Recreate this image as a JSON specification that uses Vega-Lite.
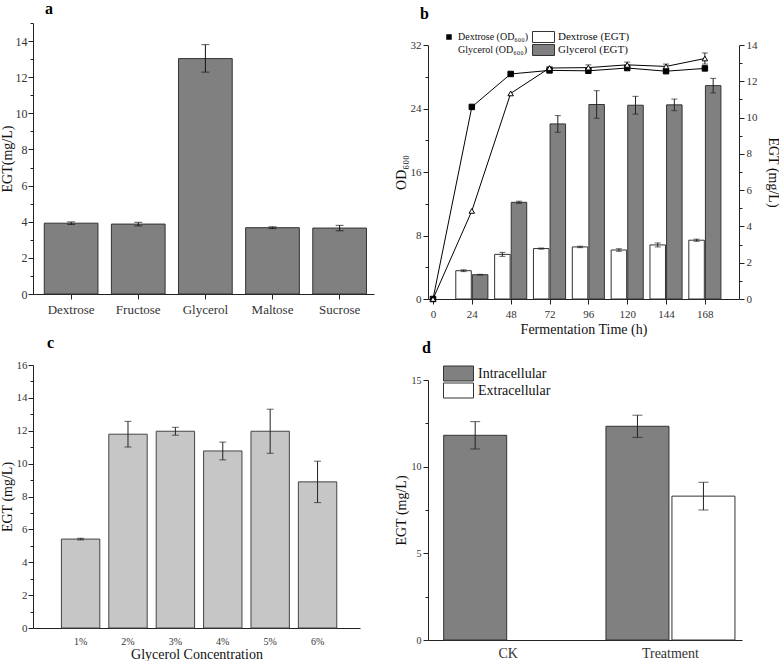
{
  "$schema": "https://vega.github.io/schema/vega-lite/v6.json",
  "background": "white",
  "padding": {"left": 0, "top": 0, "right": 0, "bottom": 0},
  "config": {
    "font": "Liberation Serif",
    "view": {"stroke": null},
    "axis": {
      "domainColor": "#222", "tickColor": "#222", "labelColor": "#333", "titleColor": "#111",
      "labelFont": "Liberation Serif", "titleFont": "Liberation Serif", "titleFontWeight": "normal",
      "grid": false, "labelFontSize": 12, "titleFontSize": 14, "tickSize": 5, "domainWidth": 1,
      "labelPadding": 2, "titlePadding": 3
    },
    "title": {"font": "Liberation Serif", "fontSize": 16, "fontWeight": "bold", "anchor": "start", "frame": "group", "color": "#000", "baseline": "alphabetic"},
    "legend": {"labelFont": "Liberation Serif", "labelColor": "#111"}
  },
  "resolve": {"scale": {"fill": "independent", "color": "independent", "shape": "independent"}, "legend": {"fill": "independent", "color": "independent", "shape": "independent"}},
  "columns": 2,
  "align": "none",
  "spacing": 20,
  "concat": [
    {
      "spacing": 19,
      "resolve": {"scale": {"fill": "independent", "color": "independent", "shape": "independent"}, "legend": {"fill": "independent", "color": "independent", "shape": "independent"}},
      "vconcat": [
        {
          "title": {"text": "a", "offset": 6, "dx": 12},
          "width": 341, "height": 271,
          "data": {"values": [
            {"sugar": "Dextrose", "egt": 3.92, "lo": 3.85, "hi": 3.99},
            {"sugar": "Fructose", "egt": 3.87, "lo": 3.77, "hi": 3.97},
            {"sugar": "Glycerol", "egt": 13.03, "lo": 12.28, "hi": 13.8},
            {"sugar": "Maltose", "egt": 3.67, "lo": 3.62, "hi": 3.72},
            {"sugar": "Sucrose", "egt": 3.65, "lo": 3.5, "hi": 3.8}
          ]},
          "resolve": {"axis": {"y": "independent"}},
          "encoding": {
            "x": {"field": "sugar", "type": "nominal", "sort": null,
                  "scale": {"paddingInner": 0.2, "paddingOuter": 0.14, "align": 0.6},
                  "axis": {"title": null, "labelAngle": 0, "labelFontSize": 13, "tickSize": 5, "labelPadding": 4}}
          },
          "layer": [
            {"mark": {"type": "bar", "fill": "#808080", "stroke": "#333", "strokeWidth": 1},
             "encoding": {"y": {"field": "egt", "type": "quantitative", "scale": {"domain": [0, 15], "nice": false},
                                "axis": {"title": "EGT(mg/L)", "values": [0, 2, 4, 6, 8, 10, 12, 14], "labelPadding": 1, "titlePadding": 1}}}},
            {"mark": {"type": "rule", "color": "#111"},
             "encoding": {"y": {"field": "lo", "type": "quantitative",
                                "axis": {"orient": "left", "values": [1, 3, 5, 7, 9, 11, 13, 15], "labels": false, "domain": false, "title": null, "tickSize": 3}},
                          "y2": {"field": "hi"}}},
            {"mark": {"type": "tick", "orient": "horizontal", "size": 8, "thickness": 1, "color": "#111"},
             "encoding": {"y": {"field": "lo", "type": "quantitative", "axis": null}}},
            {"mark": {"type": "tick", "orient": "horizontal", "size": 8, "thickness": 1, "color": "#111"},
             "encoding": {"y": {"field": "hi", "type": "quantitative", "axis": null}}}
          ]
        },
        {
          "title": {"text": "c", "offset": 8, "dx": 14},
          "width": 327, "height": 263,
          "data": {"values": [
            {"conc": "1%", "egt": 5.41, "lo": 5.36, "hi": 5.46},
            {"conc": "2%", "egt": 11.79, "lo": 11.01, "hi": 12.57},
            {"conc": "3%", "egt": 11.97, "lo": 11.73, "hi": 12.21},
            {"conc": "4%", "egt": 10.77, "lo": 10.23, "hi": 11.31},
            {"conc": "5%", "egt": 11.97, "lo": 10.63, "hi": 13.31},
            {"conc": "6%", "egt": 8.89, "lo": 7.63, "hi": 10.15}
          ]},
          "resolve": {"axis": {"y": "independent"}},
          "encoding": {
            "x": {"field": "conc", "type": "nominal", "sort": null,
                  "scale": {"paddingInner": 0.19, "paddingOuter": 0.545, "align": 0.55},
                  "axis": {"title": "Glycerol Concentration", "labelAngle": 0, "labelFontSize": 10, "ticks": false, "labelPadding": 8, "titlePadding": 1, "titleFontSize": 14}}
          },
          "layer": [
            {"mark": {"type": "bar", "fill": "#c6c6c6", "stroke": "#444", "strokeWidth": 1},
             "encoding": {"y": {"field": "egt", "type": "quantitative", "scale": {"domain": [0, 16], "nice": false},
                                "axis": {"title": "EGT (mg/L)", "values": [0, 2, 4, 6, 8, 10, 12, 14, 16], "labelFontSize": 11, "labelPadding": 1, "titlePadding": 2}}}},
            {"mark": {"type": "rule", "color": "#222"},
             "encoding": {"y": {"field": "lo", "type": "quantitative",
                                "axis": {"orient": "left", "values": [1, 3, 5, 7, 9, 11, 13, 15], "labels": false, "domain": false, "title": null, "tickSize": 3}},
                          "y2": {"field": "hi"}}},
            {"mark": {"type": "tick", "orient": "horizontal", "size": 7, "thickness": 1, "color": "#222"},
             "encoding": {"y": {"field": "lo", "type": "quantitative", "axis": null}}},
            {"mark": {"type": "tick", "orient": "horizontal", "size": 7, "thickness": 1, "color": "#222"},
             "encoding": {"y": {"field": "hi", "type": "quantitative", "axis": null}}}
          ]
        }
      ]
    },
    {
      "spacing": 4,
      "resolve": {"scale": {"fill": "independent", "color": "independent", "shape": "independent"}, "legend": {"fill": "independent", "color": "independent", "shape": "independent"}},
      "vconcat": [
        {
          "title": {"text": "b", "offset": 1, "dx": -8},
          "width": 311, "height": 3,
          "data": {"values": []},
          "mark": {"type": "point", "opacity": 0},
          "encoding": {}
        },
        {
          "width": 311, "height": 254,
          "resolve": {"scale": {"y": "independent", "fill": "independent", "shape": "independent", "color": "independent"}},
          "layer": [
            {
              "data": {"values": [
                {"t": 24, "series": "Dextrose (EGT)", "egt": 1.56, "lo": 1.51, "hi": 1.61},
                {"t": 48, "series": "Dextrose (EGT)", "egt": 2.46, "lo": 2.35, "hi": 2.57},
                {"t": 72, "series": "Dextrose (EGT)", "egt": 2.78, "lo": 2.75, "hi": 2.81},
                {"t": 96, "series": "Dextrose (EGT)", "egt": 2.87, "lo": 2.83, "hi": 2.91},
                {"t": 120, "series": "Dextrose (EGT)", "egt": 2.7, "lo": 2.63, "hi": 2.77},
                {"t": 144, "series": "Dextrose (EGT)", "egt": 2.98, "lo": 2.87, "hi": 3.09},
                {"t": 168, "series": "Dextrose (EGT)", "egt": 3.24, "lo": 3.18, "hi": 3.3},
                {"t": 24, "series": "Glycerol (EGT)", "egt": 1.34, "lo": 1.32, "hi": 1.36},
                {"t": 48, "series": "Glycerol (EGT)", "egt": 5.33, "lo": 5.27, "hi": 5.39},
                {"t": 72, "series": "Glycerol (EGT)", "egt": 9.65, "lo": 9.19, "hi": 10.11},
                {"t": 96, "series": "Glycerol (EGT)", "egt": 10.72, "lo": 9.96, "hi": 11.48},
                {"t": 120, "series": "Glycerol (EGT)", "egt": 10.68, "lo": 10.19, "hi": 11.17},
                {"t": 144, "series": "Glycerol (EGT)", "egt": 10.7, "lo": 10.38, "hi": 11.02},
                {"t": 168, "series": "Glycerol (EGT)", "egt": 11.76, "lo": 11.36, "hi": 12.16}
              ]},
              "resolve": {"axis": {"y": "independent"}},
              "encoding": {
                "x": {"field": "t", "type": "quantitative", "scale": {"domain": [0, 186], "nice": false},
                      "axis": {"title": "Fermentation Time (h)", "values": [0, 24, 48, 72, 96, 120, 144, 168], "labelFontSize": 11, "titleFontSize": 14, "labelPadding": 4}}
              },
              "layer": [
                {"transform": [{"filter": "datum.series === 'Dextrose (EGT)'"}],
                 "mark": {"type": "bar", "width": 15.5, "xOffset": -8.3, "stroke": "#333", "strokeWidth": 1},
                 "encoding": {
                   "y": {"field": "egt", "type": "quantitative", "scale": {"domain": [0, 14], "nice": false},
                         "axis": {"orient": "right", "title": "EGT (mg/L)", "values": [0, 2, 4, 6, 8, 10, 12, 14], "labelFontSize": 11, "titlePadding": 8}},
                   "fill": {"field": "series", "type": "nominal",
                            "scale": {"domain": ["Dextrose (EGT)", "Glycerol (EGT)"], "range": ["#ffffff", "#808080"]},
                            "legend": {"orient": "none", "legendX": 104, "legendY": -14.5, "title": null, "symbolType": "M-1,-0.5H1V0.5H-1Z", "symbolSize": 484, "symbolStrokeColor": "#333", "symbolStrokeWidth": 1, "labelFontSize": 11, "rowPadding": 0, "clipHeight": 13, "labelOffset": 3}}
                 }},
                {"transform": [{"filter": "datum.series === 'Glycerol (EGT)'"}],
                 "mark": {"type": "bar", "width": 15.5, "xOffset": 8.3, "stroke": "#333", "strokeWidth": 1},
                 "encoding": {
                   "y": {"field": "egt", "type": "quantitative", "axis": null},
                   "fill": {"field": "series", "type": "nominal"}
                 }},
                {"transform": [{"filter": "datum.series === 'Dextrose (EGT)'"}],
                 "mark": {"type": "rule", "xOffset": -8.3, "color": "#222"},
                 "encoding": {"y": {"field": "lo", "type": "quantitative",
                                    "axis": {"orient": "right", "values": [1, 3, 5, 7, 9, 11, 13], "labels": false, "domain": false, "title": null, "tickSize": 3}},
                              "y2": {"field": "hi"}}},
                {"transform": [{"filter": "datum.series === 'Glycerol (EGT)'"}],
                 "mark": {"type": "rule", "xOffset": 8.3, "color": "#222"},
                 "encoding": {"y": {"field": "lo", "type": "quantitative", "axis": null}, "y2": {"field": "hi"}}},
                {"transform": [{"filter": "datum.series === 'Dextrose (EGT)'"}],
                 "mark": {"type": "tick", "orient": "horizontal", "size": 6, "thickness": 1, "xOffset": -8.3, "color": "#222"},
                 "encoding": {"y": {"field": "lo", "type": "quantitative", "axis": null}}},
                {"transform": [{"filter": "datum.series === 'Dextrose (EGT)'"}],
                 "mark": {"type": "tick", "orient": "horizontal", "size": 6, "thickness": 1, "xOffset": -8.3, "color": "#222"},
                 "encoding": {"y": {"field": "hi", "type": "quantitative", "axis": null}}},
                {"transform": [{"filter": "datum.series === 'Glycerol (EGT)'"}],
                 "mark": {"type": "tick", "orient": "horizontal", "size": 6, "thickness": 1, "xOffset": 8.3, "color": "#222"},
                 "encoding": {"y": {"field": "lo", "type": "quantitative", "axis": null}}},
                {"transform": [{"filter": "datum.series === 'Glycerol (EGT)'"}],
                 "mark": {"type": "tick", "orient": "horizontal", "size": 6, "thickness": 1, "xOffset": 8.3, "color": "#222"},
                 "encoding": {"y": {"field": "hi", "type": "quantitative", "axis": null}}}
              ]
            },
            {
              "data": {"values": [
                {"t": 0, "series": "Dextrose (OD₆₀₀)", "od": 0},
                {"t": 24, "series": "Dextrose (OD₆₀₀)", "od": 24.2},
                {"t": 48, "series": "Dextrose (OD₆₀₀)", "od": 28.35},
                {"t": 72, "series": "Dextrose (OD₆₀₀)", "od": 28.8},
                {"t": 96, "series": "Dextrose (OD₆₀₀)", "od": 28.75},
                {"t": 120, "series": "Dextrose (OD₆₀₀)", "od": 29.1},
                {"t": 144, "series": "Dextrose (OD₆₀₀)", "od": 28.7},
                {"t": 168, "series": "Dextrose (OD₆₀₀)", "od": 29.05},
                {"t": 0, "series": "Glycerol (OD₆₀₀)", "od": 0},
                {"t": 24, "series": "Glycerol (OD₆₀₀)", "od": 11.1},
                {"t": 48, "series": "Glycerol (OD₆₀₀)", "od": 25.9},
                {"t": 72, "series": "Glycerol (OD₆₀₀)", "od": 29.1, "lo": 28.9, "hi": 29.3},
                {"t": 96, "series": "Glycerol (OD₆₀₀)", "od": 29.15, "lo": 28.8, "hi": 29.5},
                {"t": 120, "series": "Glycerol (OD₆₀₀)", "od": 29.5, "lo": 29.15, "hi": 29.85},
                {"t": 144, "series": "Glycerol (OD₆₀₀)", "od": 29.3, "lo": 29.0, "hi": 29.6},
                {"t": 168, "series": "Glycerol (OD₆₀₀)", "od": 30.3, "lo": 29.6, "hi": 31.0}
              ]},
              "resolve": {"axis": {"y": "independent"}},
              "encoding": {
                "x": {"field": "t", "type": "quantitative"}
              },
              "layer": [
                {"mark": {"type": "rule", "color": "#222"},
                 "encoding": {"y": {"field": "lo", "type": "quantitative",
                                    "axis": {"orient": "left", "values": [4, 12, 20, 28], "labels": false, "domain": false, "title": null, "tickSize": 3}},
                              "y2": {"field": "hi"}}},
                {"mark": {"type": "tick", "orient": "horizontal", "size": 6, "thickness": 1, "color": "#222"},
                 "encoding": {"y": {"field": "lo", "type": "quantitative", "axis": null}}},
                {"mark": {"type": "tick", "orient": "horizontal", "size": 6, "thickness": 1, "color": "#222"},
                 "encoding": {"y": {"field": "hi", "type": "quantitative", "axis": null}}},
                {"mark": {"type": "line", "strokeWidth": 1, "color": "#000"},
                 "encoding": {
                   "y": {"field": "od", "type": "quantitative", "scale": {"domain": [0, 32], "nice": false},
                         "axis": {"orient": "left", "title": "OD₆₀₀", "values": [0, 8, 16, 24, 32], "labelFontSize": 11, "titlePadding": 2}},
                   "detail": {"field": "series", "type": "nominal"}
                 }},
                {"mark": {"type": "point", "size": 30, "strokeWidth": 1, "opacity": 1, "stroke": "#000"},
                 "encoding": {
                   "y": {"field": "od", "type": "quantitative", "axis": null},
                   "shape": {"field": "series", "type": "nominal", "scale": {"range": ["square", "triangle-up"]},
                             "legend": {"orient": "none", "legendX": 16, "legendY": -14.5, "title": null, "labelFontSize": 10, "rowPadding": 0, "clipHeight": 13, "symbolSize": 30, "symbolStrokeWidth": 1, "symbolStrokeColor": "#000"}},
                   "fill": {"field": "series", "type": "nominal", "scale": {"range": ["#000000", "#ffffff"]},
                            "legend": {"orient": "none", "legendX": 16, "legendY": -14.5, "title": null, "labelFontSize": 10, "rowPadding": 0, "clipHeight": 13, "symbolSize": 30, "symbolStrokeWidth": 1, "symbolStrokeColor": "#000"}}
                 }}
              ]
            }
          ]
        },
        {
          "title": {"text": "d", "offset": 9, "dx": -6},
          "width": 314, "height": 260,
          "data": {"values": [
            {"group": "CK", "type": "Intracellular", "egt": 11.81, "lo": 11.02, "hi": 12.6},
            {"group": "Treatment", "type": "Intracellular", "egt": 12.33, "lo": 11.69, "hi": 12.97},
            {"group": "Treatment", "type": "Extracellular", "egt": 8.3, "lo": 7.5, "hi": 9.1}
          ]},
          "resolve": {"axis": {"y": "independent"}},
          "encoding": {
            "x": {"field": "group", "type": "nominal", "sort": null,
                  "scale": {"paddingInner": 0.205, "paddingOuter": 0.07, "align": 0.69},
                  "axis": {"title": null, "labelAngle": 0, "labelFontSize": 14, "ticks": false, "labelPadding": 6}},
            "xOffset": {"field": "type", "type": "nominal", "sort": ["Intracellular", "Extracellular"], "scale": {"paddingInner": 0.045}}
          },
          "layer": [
            {"mark": {"type": "bar", "stroke": "#333", "strokeWidth": 1},
             "encoding": {
               "y": {"field": "egt", "type": "quantitative", "scale": {"domain": [0, 15], "nice": false},
                     "axis": {"title": "EGT (mg/L)", "values": [0, 5, 10, 15], "labelFontSize": 10}},
               "fill": {"field": "type", "type": "nominal",
                        "scale": {"domain": ["Intracellular", "Extracellular"], "range": ["#808080", "#ffffff"]},
                        "legend": {"orient": "none", "legendX": 15, "legendY": -15, "title": null, "symbolType": "M-1,-0.5H1V0.5H-1Z", "symbolSize": 900, "symbolStrokeColor": "#333", "symbolStrokeWidth": 1, "labelFontSize": 14, "rowPadding": 0, "clipHeight": 17, "labelOffset": 4}}
             }},
            {"mark": {"type": "rule", "color": "#222"},
             "encoding": {"y": {"field": "lo", "type": "quantitative",
                                "axis": {"orient": "left", "values": [2.5, 7.5, 12.5], "labels": false, "domain": false, "title": null, "tickSize": 3}},
                          "y2": {"field": "hi"}}},
            {"mark": {"type": "tick", "orient": "horizontal", "size": 10, "thickness": 1, "color": "#222"},
             "encoding": {"y": {"field": "lo", "type": "quantitative", "axis": null}}},
            {"mark": {"type": "tick", "orient": "horizontal", "size": 10, "thickness": 1, "color": "#222"},
             "encoding": {"y": {"field": "hi", "type": "quantitative", "axis": null}}}
          ]
        }
      ]
    }
  ]
}
